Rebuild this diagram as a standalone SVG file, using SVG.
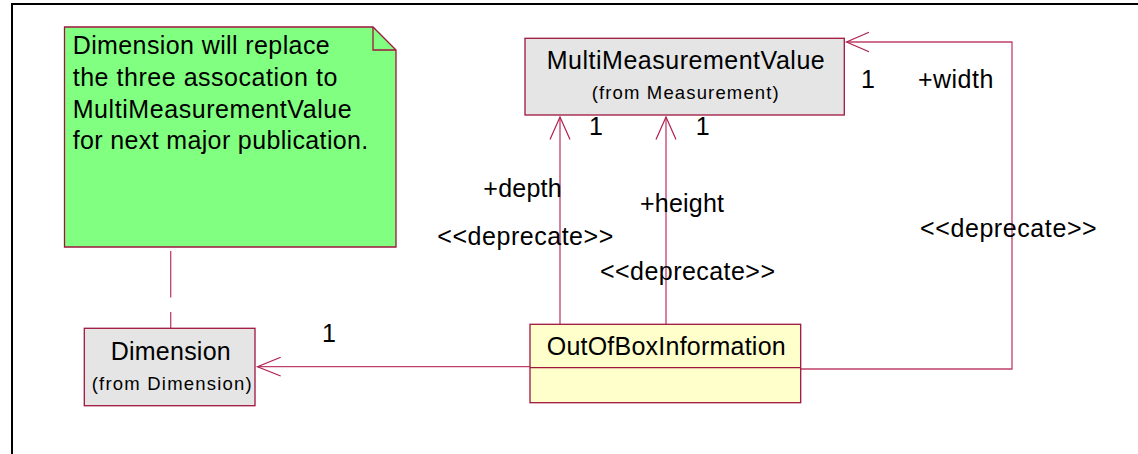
<svg xmlns="http://www.w3.org/2000/svg" width="1138" height="454" viewBox="0 0 1138 454">
<style>
.box{stroke:#A0153E;stroke-width:1.3}
.conn{fill:none;stroke:#C0406A;stroke-width:1.3}
.head{fill:none;stroke:#B0204E;stroke-width:1.2}
text{font-family:"Liberation Sans",Arial,sans-serif;fill:#000}
.big{font-size:25px}
.small{font-size:18.5px}
</style>
<rect x="0" y="0" width="1138" height="454" fill="#fff"/>
<path d="M12,454 V4 H1138" fill="none" stroke="#000" stroke-width="2"/>
<g id="connectors">
  <line class="conn" x1="170.7" y1="251" x2="170.7" y2="297.5"/>
  <line class="conn" x1="170.7" y1="312" x2="170.7" y2="328"/>
  <line class="conn" x1="530" y1="366.7" x2="257.5" y2="366.7"/>
  <polyline class="head" points="280.7,357.3 257.5,366.7 280.7,376"/>
  <line class="conn" x1="560" y1="324" x2="560" y2="117"/>
  <polyline class="head" points="550,139.5 560,117 570,139.5"/>
  <line class="conn" x1="666" y1="324" x2="666" y2="117"/>
  <polyline class="head" points="656,139.5 666,117 676,139.5"/>
  <polyline class="conn" points="801,369 1012,369 1012,42 846.5,42"/>
  <polyline class="head" points="869,32.3 846.5,42 869,51.7"/>
  <text class="big" x="322" y="341.7">1</text>
  <text class="big" x="589" y="135">1</text>
  <text class="big" x="695.7" y="135">1</text>
  <text class="big" x="861" y="87.7">1</text>
  <text class="big" x="918" y="87.7" textLength="75.3" lengthAdjust="spacing">+width</text>
  <text class="big" x="483.3" y="196.7" textLength="78.4" lengthAdjust="spacing">+depth</text>
  <text class="big" x="640" y="211.7" textLength="84" lengthAdjust="spacing">+height</text>
  <text class="big" x="437.3" y="245" textLength="176" lengthAdjust="spacing">&lt;&lt;deprecate&gt;&gt;</text>
  <text class="big" x="600" y="280" textLength="175" lengthAdjust="spacing">&lt;&lt;deprecate&gt;&gt;</text>
  <text class="big" x="920" y="236.7" textLength="176.7" lengthAdjust="spacing">&lt;&lt;deprecate&gt;&gt;</text>
</g>
<g id="note">
  <path class="box" d="M64.5,27 H373 L396,50 V247 H64.5 Z" fill="#80FF80"/>
  <path class="box" d="M373,27 V50 H396" fill="none"/>
  <text class="big" x="72.7" y="54.3" textLength="257" lengthAdjust="spacing">Dimension will replace</text>
  <text class="big" x="72.7" y="86" textLength="264.6" lengthAdjust="spacing">the three assocation to</text>
  <text class="big" x="72.7" y="117.7" textLength="279" lengthAdjust="spacing">MultiMeasurementValue</text>
  <text class="big" x="72.7" y="149.3" textLength="295.6" lengthAdjust="spacing">for next major publication.</text>
</g>
<g id="MultiMeasurementValue">
  <rect class="box" x="525" y="38.3" width="319.3" height="76.7" fill="#E5E5E5"/>
  <text class="big" x="546.7" y="68.5" textLength="278" lengthAdjust="spacing">MultiMeasurementValue</text>
  <text class="small" x="591.7" y="99" textLength="187" lengthAdjust="spacing">(from Measurement)</text>
</g>
<g id="Dimension">
  <rect class="box" x="84.3" y="328.3" width="170.7" height="77.4" fill="#E5E5E5"/>
  <text class="big" x="110.7" y="360" textLength="120" lengthAdjust="spacing">Dimension</text>
  <text class="small" x="91.7" y="390" textLength="160" lengthAdjust="spacing">(from Dimension)</text>
</g>
<g id="OutOfBoxInformation">
  <rect class="box" x="530" y="324.3" width="270.7" height="78.4" fill="#FFFFCC"/>
  <line class="box" x1="530" y1="367.7" x2="800.7" y2="367.7"/>
  <text class="big" x="546.7" y="355" textLength="239" lengthAdjust="spacing">OutOfBoxInformation</text>
</g>
</svg>
